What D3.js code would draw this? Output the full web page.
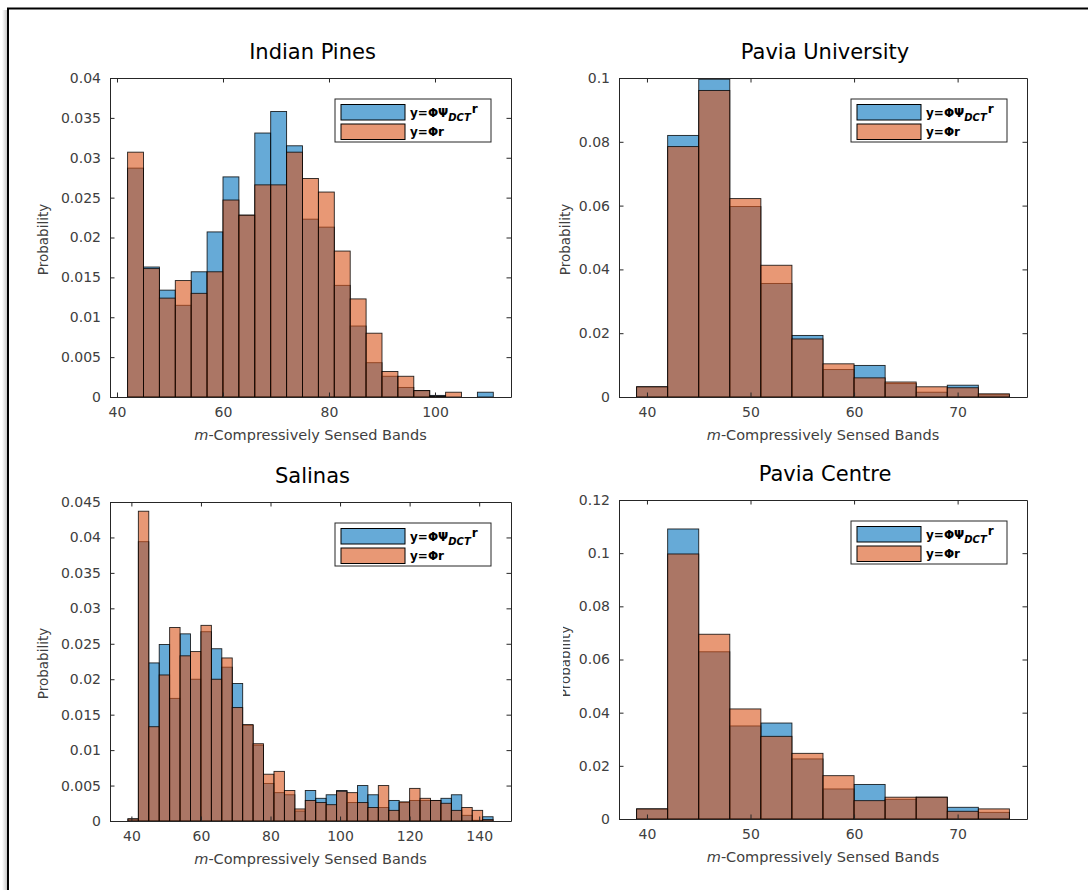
<!DOCTYPE html>
<html>
<head>
<meta charset="utf-8">
<script src="https://cdn.jsdelivr.net/npm/d3@7"></script>
<style>
  html, body { margin: 0; padding: 0; background: #fff; }
  svg { display: block; }
  text { font-family: "DejaVu Sans", sans-serif; }
</style>
</head>
<body>
<script>
// ---- data -------------------------------------------------------------
const titles = ["Indian Pines", "Pavia University", "Salinas", "Pavia Centre"];
const seriesNames = ["y=\u03A6\u03A8", "y=\u03A6r"];
const binWidth = 3;

// Indian Pines: bins of width 3 starting at 42
const indianPinesEdges = d3.range(42, 111, binWidth);
const indianPinesDCT = [0.0287, 0.0163, 0.0134, 0.0115, 0.0157, 0.0207, 0.0276, 0.0228, 0.0331, 0.0358, 0.0315, 0.0223,
  0.0213, 0.0140, 0.0089, 0.0043, 0.0026, 0.0012, 0.0008, 0.0002, 0, 0, 0.0006];
const indianPinesRaw = [0.0307, 0.0161, 0.0124, 0.0146, 0.0130, 0.0157, 0.0247, 0.0228, 0.0266, 0.0266, 0.0307, 0.0274,
  0.0257, 0.0183, 0.0123, 0.0080, 0.0032, 0.0026, 0.0008, 0.0001, 0.0006, 0, 0];

// Pavia University: bins starting at 39
const paviaUEdges = d3.range(39, 75, binWidth);
const paviaUDCT = [0.0032, 0.0820, 0.0996, 0.0597, 0.0356, 0.0193, 0.0086, 0.0099, 0.0042, 0.0015, 0.0037, 0.0007];
const paviaURaw = [0.0032, 0.0785, 0.0961, 0.0622, 0.0413, 0.0182, 0.0104, 0.0060, 0.0047, 0.0032, 0.0029, 0.0010];

// Salinas: bins starting at 39
const salinasEdges = d3.range(39, 144, binWidth);
const salinasDCT = [0.0003, 0.0394, 0.0223, 0.0249, 0.0173, 0.0264, 0.0200, 0.0267, 0.0243, 0.0217, 0.0194, 0.0135,
  0.0107, 0.0053, 0.0040, 0.0037, 0.0014, 0.0043, 0.0032, 0.0037, 0.0043, 0.0026, 0.0050, 0.0037, 0.0019, 0.0029,
  0.0026, 0.0029, 0.0029, 0.0029, 0.0032, 0.0037, 0.0008, 0.0001, 0.0006];
const salinasRaw = [0.0003, 0.0437, 0.0133, 0.0206, 0.0273, 0.0233, 0.0239, 0.0276, 0.0200, 0.0230, 0.0160, 0.0136,
  0.0109, 0.0066, 0.0070, 0.0043, 0.0017, 0.0029, 0.0026, 0.0023, 0.0042, 0.0040, 0.0026, 0.0019, 0.0050, 0.0015,
  0.0027, 0.0046, 0.0032, 0.0029, 0.0025, 0.0015, 0.0019, 0.0015, 0.0002];

// Pavia Centre: bins starting at 39
const paviaCEdges = d3.range(39, 75, binWidth);
const paviaCDCT = [0.0038, 0.1091, 0.0629, 0.0350, 0.0361, 0.0226, 0.0113, 0.0130, 0.0074, 0.0082, 0.0044, 0.0025];
const paviaCRaw = [0.0038, 0.0997, 0.0695, 0.0414, 0.0311, 0.0247, 0.0163, 0.0069, 0.0082, 0.0082, 0.0029, 0.0038];

// axis limits and ticks
const xLimits = [[38.68, 114.34], [37.3, 76.7], [33.85, 149.15], [37.3, 76.7]];
const yLimits = [[0, 0.04], [0, 0.1], [0, 0.045], [0, 0.12]];
const xTicks = [[40, 60, 80, 100], [40, 50, 60, 70], [40, 60, 80, 100, 120, 140], [40, 50, 60, 70]];
const yTickLabels = [
  ["0", "0.005", "0.01", "0.015", "0.02", "0.025", "0.03", "0.035", "0.04"],
  ["0", "0.02", "0.04", "0.06", "0.08", "0.1"],
  ["0", "0.005", "0.01", "0.015", "0.02", "0.025", "0.03", "0.035", "0.04", "0.045"],
  ["0", "0.02", "0.04", "0.06", "0.08", "0.1", "0.12"]
];

// ---- layout -----------------------------------------------------------
const W = 1088, H = 890;
const boxes = [
  { l: 110, t: 78, r: 511, b: 397, yLabelOffset: 62 },
  { l: 619, t: 78, r: 1027, b: 397, yLabelOffset: 49 },
  { l: 110, t: 502, r: 511, b: 821, yLabelOffset: 62 },
  { l: 619, t: 500, r: 1027, b: 819, yLabelOffset: 49 }
];
const panelData = [
  { edges: indianPinesEdges, a: indianPinesDCT, b: indianPinesRaw },
  { edges: paviaUEdges, a: paviaUDCT, b: paviaURaw },
  { edges: salinasEdges, a: salinasDCT, b: salinasRaw },
  { edges: paviaCEdges, a: paviaCDCT, b: paviaCRaw }
];
const blue = "#0072BD", orange = "#D95319", axisColor = "#262626";

const svg = d3.select("body").append("svg").attr("width", W).attr("height", H);
svg.append("rect").attr("width", W).attr("height", H).attr("fill", "#fff");

// window frame with a faint shadow on its left side
const defs = svg.append("defs");
const sh = defs.append("linearGradient").attr("id", "frameShadow").attr("x1", 0).attr("x2", 1);
sh.append("stop").attr("offset", 0).attr("stop-color", "#fff");
sh.append("stop").attr("offset", 1).attr("stop-color", "#c8c8c8");
svg.append("rect").attr("x", 2).attr("y", 10).attr("width", 5).attr("height", H - 10).attr("fill", "url(#frameShadow)");
svg.append("line").attr("x1", 8).attr("x2", 8).attr("y1", 8).attr("y2", H).attr("stroke", "#000").attr("stroke-width", 2);
svg.append("line").attr("x1", 7).attr("x2", W).attr("y1", 8.5).attr("y2", 8.5).attr("stroke", "#000").attr("stroke-width", 2);

// the lower-right panel's y label is partly cut off on its left side
defs.append("clipPath").attr("id", "clipLabel4")
  .append("rect").attr("x", 563).attr("y", 480).attr("width", 60).attr("height", 360);

boxes.forEach((bx, i) => {
  const g = svg.append("g");
  const x = d3.scaleLinear().domain(xLimits[i]).range([bx.l, bx.r]);
  const y = d3.scaleLinear().domain(yLimits[i]).range([bx.b, bx.t]);
  const pd = panelData[i];

  // histogram bars: first series then second, both semi-transparent
  [[pd.a, blue], [pd.b, orange]].forEach(([vals, col]) => {
    const bins = pd.edges.map((e, k) => ({ x0: e, x1: e + binWidth, v: vals[k] })).filter(d => d.v > 0);
    g.append("g").selectAll("rect").data(bins).join("rect")
      .attr("x", d => x(d.x0))
      .attr("width", d => x(d.x1) - x(d.x0))
      .attr("y", d => y(d.v))
      .attr("height", d => y(0) - y(d.v))
      .attr("fill", col).attr("fill-opacity", 0.6)
      .attr("stroke", "#000").attr("stroke-opacity", 0.85).attr("stroke-width", 0.9);
  });

  // axes: box with inward ticks on all sides
  const tl = 4.5;
  const yTickVals = yTickLabels[i].map(Number);
  const axB = d3.axisBottom(x).tickValues(xTicks[i]).tickSizeInner(-tl).tickSizeOuter(0).tickPadding(10).tickFormat(d3.format("d"));
  const axT = d3.axisTop(x).tickValues(xTicks[i]).tickSizeInner(-tl).tickSizeOuter(0).tickFormat("");
  const axL = d3.axisLeft(y).tickValues(yTickVals).tickSizeInner(-tl).tickSizeOuter(0).tickPadding(9)
    .tickFormat((d, k) => yTickLabels[i][k]);
  const axR = d3.axisRight(y).tickValues(yTickVals).tickSizeInner(-tl).tickSizeOuter(0).tickFormat("");
  const put = (ax, tr) => {
    const a = g.append("g").attr("transform", tr).call(ax);
    a.select(".domain").attr("stroke", axisColor).attr("stroke-width", 1);
    a.selectAll(".tick line").attr("stroke", axisColor).attr("stroke-width", 1);
    a.selectAll(".tick text").attr("fill", "#404040").attr("font-size", 14).attr("font-family", "DejaVu Sans");
    return a;
  };
  put(axB, `translate(0,${bx.b})`);
  put(axT, `translate(0,${bx.t})`);
  put(axL, `translate(${bx.l},0)`);
  put(axR, `translate(${bx.r},0)`);

  // title
  svg.append("text").attr("x", (bx.l + bx.r) / 2 + 2).attr("y", bx.t - 19)
    .attr("text-anchor", "middle").attr("font-family", "Liberation Sans, Arial, sans-serif")
    .attr("font-size", 21).attr("fill", "#000").text(titles[i]);

  // x label with italic m
  const xl = svg.append("text").attr("x", (bx.l + bx.r) / 2).attr("y", bx.b + 43)
    .attr("text-anchor", "middle").attr("font-size", 14.5).attr("fill", "#404040");
  xl.append("tspan").attr("font-style", "italic").text("m");
  xl.append("tspan").text("-Compressively Sensed Bands");

  // y label
  const ylx = bx.l - bx.yLabelOffset, yly = (bx.t + bx.b) / 2 + 2;
  const ylg = svg.append("g");
  if (i === 3) ylg.attr("clip-path", "url(#clipLabel4)");
  ylg.append("text").attr("transform", `translate(${ylx},${yly}) rotate(-90)`)
    .attr("text-anchor", "middle").attr("font-size", 13.5).attr("fill", "#404040").text("Probability");

  // legend
  const lw = 156, lh = 43;
  const lx = bx.r - 20 - lw, ly = bx.t + 21;
  const lg = svg.append("g").attr("transform", `translate(${lx},${ly})`);
  lg.append("rect").attr("width", lw).attr("height", lh).attr("fill", "#fff")
    .attr("stroke", axisColor).attr("stroke-width", 1);
  [blue, orange].forEach((col, k) => {
    const ry = 5.5 + k * 19.5;
    lg.append("rect").attr("x", 6).attr("y", ry).attr("width", 64).attr("height", 15.5)
      .attr("fill", col).attr("fill-opacity", 0.6).attr("stroke", "#000").attr("stroke-width", 1);
    const t = lg.append("text").attr("x", 75).attr("y", ry + 12).attr("font-size", 12)
      .attr("font-weight", "bold").attr("fill", "#000");
    if (k === 0) {
      t.append("tspan").text(seriesNames[0]);
      t.append("tspan").attr("font-style", "italic").attr("font-size", 10).attr("dy", 4).text("DCT");
      t.append("tspan").attr("dy", -8).attr("dx", 1).text("r");
    } else {
      t.text(seriesNames[1]);
    }
  });
});
</script>
</body>
</html>
